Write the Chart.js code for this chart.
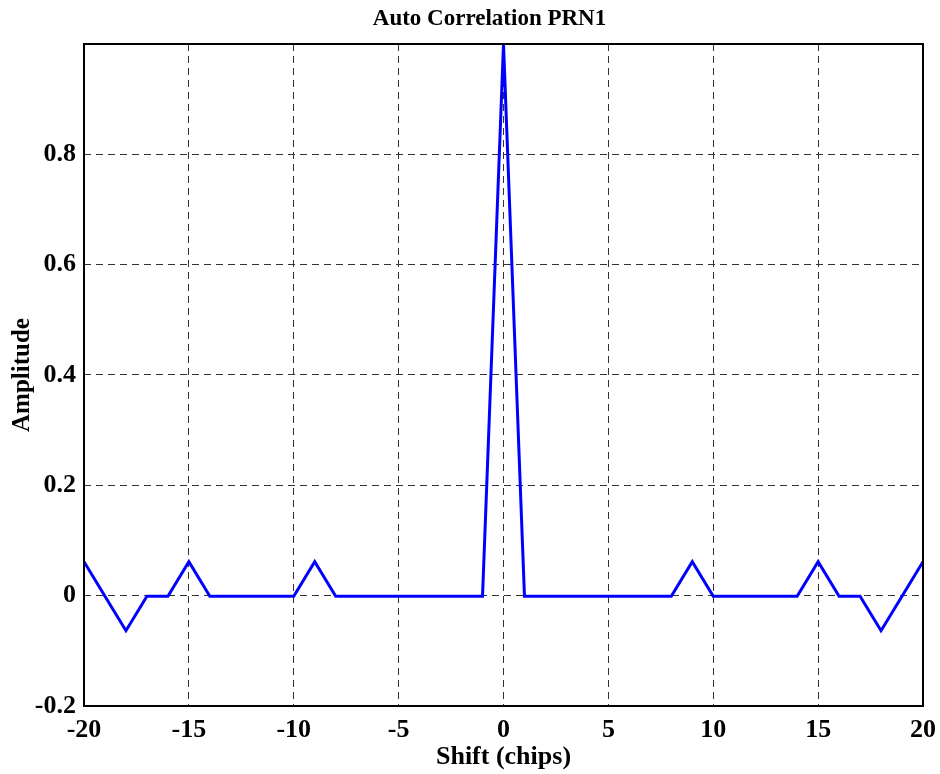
<!DOCTYPE html>
<html>
<head>
<meta charset="utf-8">
<script src="https://cdn.jsdelivr.net/npm/chart.js@4.4.1/dist/chart.umd.min.js"></script>
<style>
  html, body { margin: 0; padding: 0; background: #fff; }
  #wrap { width: 940px; height: 774px; }
</style>
</head>
<body>
<div id="wrap"><canvas id="c" width="940" height="774"></canvas></div>
<script>
// shift in chips
const shifts = [-20, -19, -18, -17, -16, -15, -14, -13, -12, -11, -10, -9, -8, -7, -6, -5, -4, -3, -2, -1,
                0, 1, 2, 3, 4, 5, 6, 7, 8, 9, 10, 11, 12, 13, 14, 15, 16, 17, 18, 19, 20];
// normalised auto correlation
const amplitude = [0.0616, -0.001, -0.0635, -0.001, -0.001, 0.0616, -0.001, -0.001, -0.001, -0.001,
                   -0.001, 0.0616, -0.001, -0.001, -0.001, -0.001, -0.001, -0.001, -0.001, -0.001,
                   1, -0.001, -0.001, -0.001, -0.001, -0.001, -0.001, -0.001, -0.001, 0.0616,
                   -0.001, -0.001, -0.001, -0.001, -0.001, 0.0616, -0.001, -0.001, -0.0635, -0.001, 0.0616];
const xTicks = [-20, -15, -10, -5, 0, 5, 10, 15, 20];
const yTicks = [-0.2, 0, 0.2, 0.4, 0.6, 0.8, 1];

const serif = '"Liberation Serif", "DejaVu Serif", serif';

// box round the plot area, and nudge the title a bit right like the original
const frame = {
    id: 'frame',
    beforeDraw(chart) {
        const t = chart.titleBlock;
        if (t && !t._moved) {
            t.left += 28;
            t.right += 28;
            t._moved = true;
        }
    },
    afterDraw(chart) {
        const a = chart.chartArea, ctx = chart.ctx;
        ctx.save();
        ctx.setLineDash([]);
        ctx.strokeStyle = '#000';
        ctx.lineWidth = 2;
        ctx.strokeRect(a.left, a.top, a.right - a.left, a.bottom - a.top);
        ctx.restore();
    }
};

new Chart(document.getElementById('c'), {
    type: 'line',
    data: {
        datasets: [{
            label: 'PRN1',
            data: shifts.map((s, i) => ({ x: s, y: amplitude[i] })),
            borderColor: '#0000ff',
            borderWidth: 3,
            pointRadius: 0,
            tension: 0,
            fill: false
        }]
    },
    options: {
        responsive: false,
        animation: false,
        layout: { padding: { left: 0, right: 17, top: 0, bottom: 0 } },
        plugins: {
            legend: { display: false },
            tooltip: { enabled: false },
            title: {
                display: true,
                text: 'Auto Correlation PRN1',
                color: '#000',
                font: { family: serif, size: 23, weight: 'bold', lineHeight: 1.2 },
                padding: { top: 5, bottom: 11.4 }
            }
        },
        scales: {
            x: {
                type: 'linear',
                min: -20,
                max: 20,
                afterBuildTicks: s => { s.ticks = xTicks.map(v => ({ value: v })); },
                afterFit: s => { s.height = 68; s.paddingLeft = 0; s.paddingRight = 0; },
                ticks: {
                    color: '#000',
                    padding: 9,
                    maxRotation: 0,
                    font: { family: serif, size: 26, weight: 'bold' },
                    callback: v => String(v)
                },
                grid: { color: '#333', lineWidth: 1, drawTicks: false },
                border: { display: false, dash: [7, 5] },
                title: {
                    display: true,
                    text: 'Shift (chips)',
                    color: '#000',
                    padding: { top: 0, bottom: 1 },
                    font: { family: serif, size: 26, weight: 'bold' }
                }
            },
            y: {
                min: -0.2,
                max: 1,
                afterBuildTicks: s => { s.ticks = yTicks.map(v => ({ value: v })); },
                afterFit: s => { s.width = 84; },
                ticks: {
                    color: '#000',
                    padding: 8,
                    font: { family: serif, size: 26, weight: 'bold' },
                    callback: v => (Math.abs(v - 1) < 1e-9 ? '' : String(Math.round(v * 10) / 10))
                },
                grid: { color: '#333', lineWidth: 1, drawTicks: false },
                border: { display: false, dash: [7, 5] },
                title: {
                    display: true,
                    text: 'Amplitude',
                    color: '#000',
                    padding: { top: 8, bottom: 0 },
                    font: { family: serif, size: 25, weight: 'bold' }
                }
            }
        }
    },
    plugins: [frame]
});
</script>
</body>
</html>
